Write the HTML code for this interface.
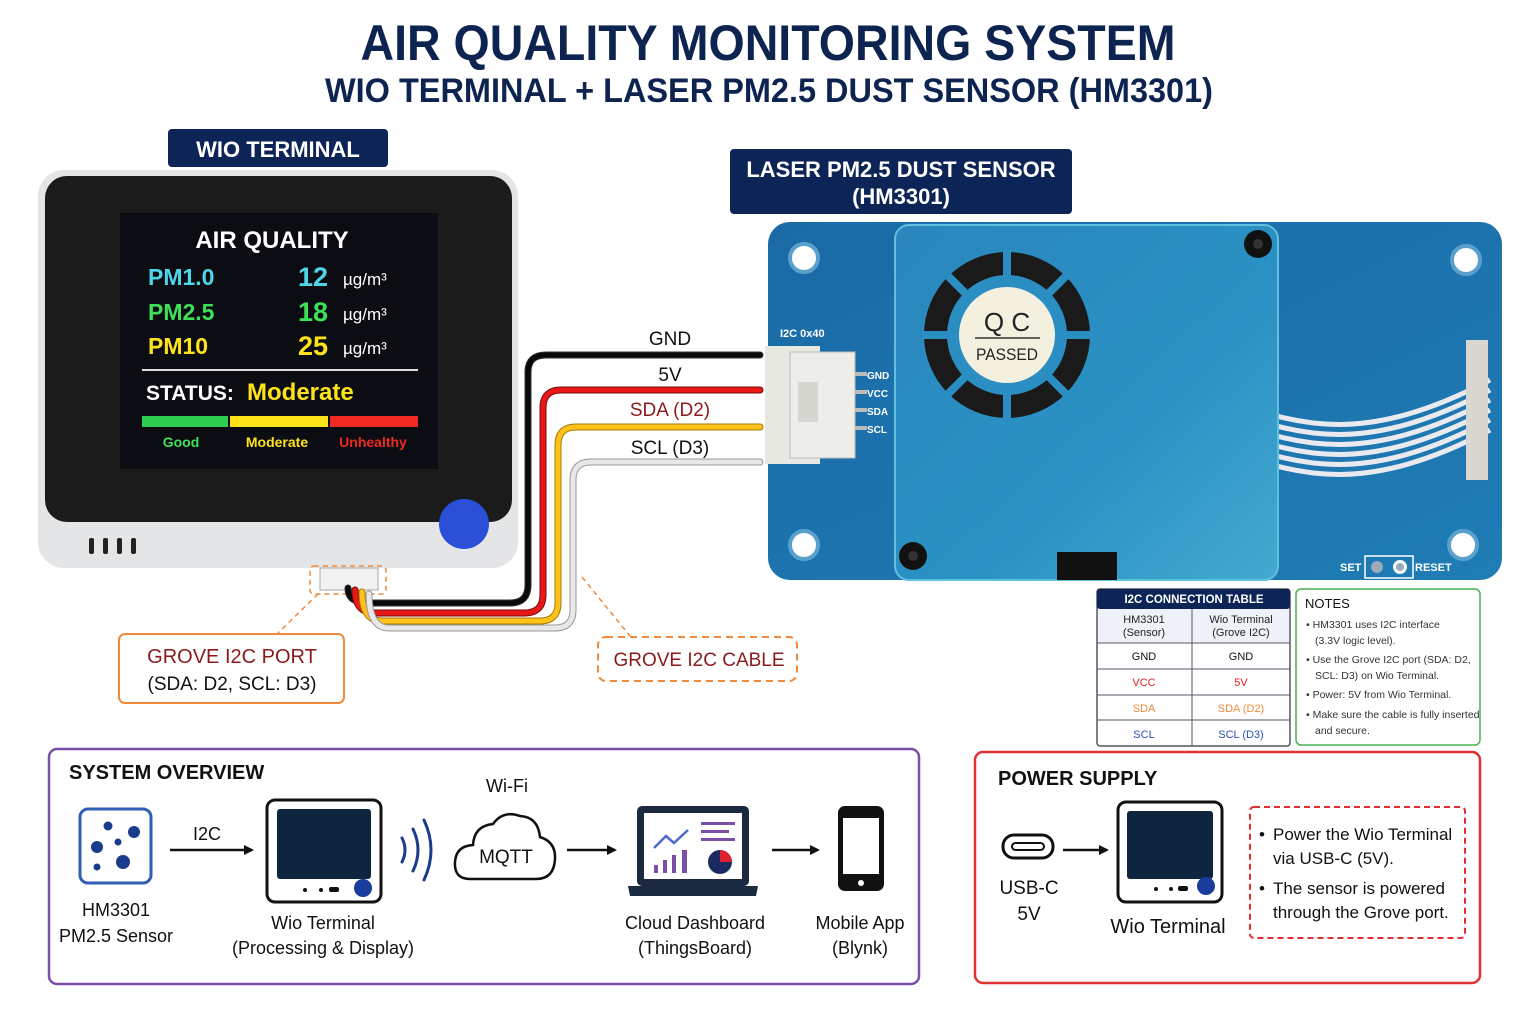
<!DOCTYPE html>
<html><head><meta charset="utf-8"><style>
html,body{margin:0;padding:0;background:#fff}
svg{display:block}
text{font-family:"Liberation Sans",sans-serif}
</style></head><body>
<svg width="1536" height="1024" viewBox="0 0 1536 1024" xmlns="http://www.w3.org/2000/svg">
<defs>
<linearGradient id="pcb" x1="0" y1="0" x2="1" y2="1"><stop offset="0" stop-color="#1a6aa6"/><stop offset="1" stop-color="#1f7cb5"/></linearGradient>
<linearGradient id="can" x1="0" y1="0" x2="1" y2="1"><stop offset="0" stop-color="#2a86bd"/><stop offset="0.6" stop-color="#2a92c4"/><stop offset="1" stop-color="#45aad0"/></linearGradient>
<marker id="ar" markerWidth="10" markerHeight="10" refX="8" refY="5" orient="auto" markerUnits="userSpaceOnUse"><path d="M0,0 L10,5 L0,10 Z" fill="#111"/></marker>
</defs>
<rect width="1536" height="1024" fill="#fff"/>
<!-- Title -->
<text x="768" y="60" text-anchor="middle" font-size="50" font-weight="bold" fill="#0d2350" textLength="815" lengthAdjust="spacingAndGlyphs">AIR QUALITY MONITORING SYSTEM</text>
<text x="769" y="102" text-anchor="middle" font-size="34" font-weight="bold" fill="#0d2350" textLength="888" lengthAdjust="spacingAndGlyphs">WIO TERMINAL + LASER PM2.5 DUST SENSOR (HM3301)</text>

<!-- Wio label -->
<rect x="168" y="129" width="220" height="38" rx="4" fill="#0c2456"/>
<text x="278" y="157" text-anchor="middle" font-size="22" font-weight="bold" fill="#fff">WIO TERMINAL</text>

<!-- Wio body -->
<rect x="38" y="170" width="480" height="398" rx="26" fill="#e4e5e7"/>
<rect x="45" y="176" width="467" height="346" rx="22" fill="#1b1b1b"/>
<rect x="120" y="213" width="318" height="256" fill="#0b0d12"/>
<g fill="#222"><rect x="89" y="538" width="5" height="16" rx="2"/><rect x="103" y="538" width="5" height="16" rx="2"/><rect x="117" y="538" width="5" height="16" rx="2"/><rect x="131" y="538" width="5" height="16" rx="2"/></g>
<circle cx="464" cy="524" r="25" fill="#2c4fd8"/>
<text x="272" y="248" text-anchor="middle" font-size="24" font-weight="bold" fill="#fff">AIR QUALITY</text>
<g font-size="23" font-weight="bold">
<text x="148" y="285" fill="#4fd5ea">PM1.0</text><text x="328" y="286" text-anchor="end" font-size="27" fill="#4fd5ea">12</text>
<text x="148" y="320" fill="#3ee05a">PM2.5</text><text x="328" y="321" text-anchor="end" font-size="27" fill="#3ee05a">18</text>
<text x="148" y="354" fill="#ffe31a">PM10</text><text x="328" y="355" text-anchor="end" font-size="27" fill="#ffe31a">25</text>
</g>
<g font-size="17" fill="#fff"><text x="343" y="285">µg/m³</text><text x="343" y="320">µg/m³</text><text x="343" y="354">µg/m³</text></g>
<line x1="142" y1="370" x2="418" y2="370" stroke="#ddd" stroke-width="2"/>
<text x="146" y="400" font-size="21" font-weight="bold" fill="#fff">STATUS:</text>
<text x="247" y="400" font-size="24" font-weight="bold" fill="#ffe31a">Moderate</text>
<rect x="142" y="416" width="86" height="11" fill="#2ecc50"/><rect x="230" y="416" width="98" height="11" fill="#ffe31a"/><rect x="330" y="416" width="88" height="11" fill="#ee2a22"/>
<g font-size="14" font-weight="bold" text-anchor="middle"><text x="181" y="447" fill="#3ee05a">Good</text><text x="277" y="447" fill="#ffe31a">Moderate</text><text x="373" y="447" fill="#ee2a22">Unhealthy</text></g>

<!-- grove port -->
<rect x="320" y="568" width="58" height="22" fill="#f2f2f2" stroke="#aaa"/>
<rect x="310" y="566" width="76" height="28" rx="4" fill="none" stroke="#f08a3c" stroke-width="1.5" stroke-dasharray="5,4"/>

<!-- wires -->
<g fill="none" stroke-linecap="round">
<path d="M348,588 Q348,603 368,603 L510,603 Q528,603 528,585 L528,372 Q528,355 546,355 L760,355" stroke="#333" stroke-width="7"/>
<path d="M348,588 Q348,603 368,603 L510,603 Q528,603 528,585 L528,372 Q528,355 546,355 L760,355" stroke="#0a0a0a" stroke-width="5"/>
<path d="M355,590 Q355,613 375,613 L524,613 Q543,613 543,595 L543,408 Q543,390 561,390 L760,390" stroke="#7a0a0a" stroke-width="7"/>
<path d="M355,590 Q355,613 375,613 L524,613 Q543,613 543,595 L543,408 Q543,390 561,390 L760,390" stroke="#e81818" stroke-width="5"/>
<path d="M362,592 Q362,621 382,621 L540,621 Q558,621 558,603 L558,445 Q558,427 576,427 L760,427" stroke="#a77a00" stroke-width="7"/>
<path d="M362,592 Q362,621 382,621 L540,621 Q558,621 558,603 L558,445 Q558,427 576,427 L760,427" stroke="#ffc21a" stroke-width="5"/>
<path d="M369,594 Q369,628 389,628 L555,628 Q573,628 573,610 L573,480 Q573,462 591,462 L760,462" stroke="#999" stroke-width="7"/>
<path d="M369,594 Q369,628 389,628 L555,628 Q573,628 573,610 L573,480 Q573,462 591,462 L760,462" stroke="#e8e8e8" stroke-width="5"/>
</g>
<g font-size="19" text-anchor="middle"><text x="670" y="345" fill="#111">GND</text><text x="670" y="381" fill="#111">5V</text><text x="670" y="416" fill="#8b1a1a">SDA (D2)</text><text x="670" y="454" fill="#111">SCL (D3)</text></g>

<!-- callouts -->
<line x1="318" y1="594" x2="278" y2="633" stroke="#f08a3c" stroke-width="1.5" stroke-dasharray="5,4"/>
<rect x="119" y="634" width="225" height="69" rx="6" fill="#fff" stroke="#f08a3c" stroke-width="2"/>
<text x="232" y="663" text-anchor="middle" font-size="20" fill="#8b1a1a">GROVE I2C PORT</text>
<text x="232" y="690" text-anchor="middle" font-size="19" fill="#111">(SDA: D2, SCL: D3)</text>
<line x1="582" y1="577" x2="630" y2="636" stroke="#f08a3c" stroke-width="1.5" stroke-dasharray="5,4"/>
<rect x="598" y="637" width="199" height="44" rx="8" fill="#fff" stroke="#f08a3c" stroke-width="2" stroke-dasharray="7,5"/>
<text x="699" y="666" text-anchor="middle" font-size="19" fill="#8b1a1a">GROVE I2C CABLE</text>

<!-- sensor label -->
<rect x="730" y="149" width="342" height="65" rx="4" fill="#0c2456"/>
<text x="901" y="177" text-anchor="middle" font-size="22" font-weight="bold" fill="#fff">LASER PM2.5 DUST SENSOR</text>
<text x="901" y="204" text-anchor="middle" font-size="22" font-weight="bold" fill="#fff">(HM3301)</text>

<!-- PCB -->
<rect x="768" y="222" width="734" height="358" rx="22" fill="url(#pcb)"/>
<g fill="#fff" stroke="#5aa0cc" stroke-width="4"><circle cx="804" cy="258" r="14"/><circle cx="1466" cy="260" r="14"/><circle cx="804" cy="545" r="14"/><circle cx="1463" cy="545" r="14"/></g>
<text x="780" y="337" font-size="11" font-weight="bold" font-family="Liberation Mono" fill="#fff">I2C 0x40</text>
<rect x="765" y="346" width="55" height="118" fill="#e8e8e2"/>
<rect x="790" y="352" width="65" height="106" fill="#ededea" stroke="#bbb"/>
<rect x="798" y="382" width="20" height="40" fill="#d6d6d0"/>
<g fill="#bbb"><rect x="855" y="372" width="12" height="4"/><rect x="855" y="390" width="12" height="4"/><rect x="855" y="408" width="12" height="4"/><rect x="855" y="426" width="12" height="4"/></g>
<g font-size="10" font-weight="bold" fill="#fff"><text x="867" y="379">GND</text><text x="867" y="397">VCC</text><text x="867" y="415">SDA</text><text x="867" y="433">SCL</text></g>
<!-- right side components -->
<g fill="#1b2a38"><rect x="1125" y="335" width="12" height="18"/><rect x="1148" y="335" width="12" height="18"/><rect x="1170" y="338" width="12" height="14"/><rect x="1185" y="336" width="22" height="18"/><rect x="1215" y="338" width="10" height="14"/><rect x="1230" y="338" width="10" height="14"/><rect x="1164" y="360" width="12" height="20"/><rect x="1180" y="360" width="12" height="20"/><rect x="1200" y="370" width="18" height="18"/><rect x="1150" y="395" width="12" height="16"/><rect x="1172" y="400" width="20" height="16"/><rect x="1200" y="400" width="20" height="16"/><rect x="1228" y="385" width="12" height="20"/><rect x="1135" y="420" width="12" height="16"/></g>
<rect x="1125" y="333" width="12" height="40" fill="#ccd" opacity=".7"/>
<g fill="none" stroke="#e9e9f0" stroke-width="5">
<path d="M1120,380 C1250,380 1300,480 1490,380"/><path d="M1120,390 C1250,390 1300,490 1490,390"/><path d="M1120,400 C1250,400 1300,500 1490,400"/><path d="M1120,410 C1250,410 1300,510 1490,410"/><path d="M1120,420 C1250,420 1300,520 1490,420"/><path d="M1120,430 C1250,430 1300,530 1490,430"/>
</g>
<rect x="1466" y="340" width="22" height="140" fill="#d8d8d0"/>
<g font-size="11" font-weight="bold" fill="#fff"><text x="1340" y="571">SET</text><text x="1415" y="571">RESET</text></g>
<rect x="1365" y="556" width="48" height="22" fill="none" stroke="#fff" stroke-width="1.5"/>
<circle cx="1377" cy="567" r="6" fill="#9ab"/><circle cx="1400" cy="567" r="7" fill="#fff"/><circle cx="1400" cy="567" r="4" fill="#9ab"/>
<!-- metal can -->
<rect x="895" y="225" width="383" height="355" rx="14" fill="url(#can)" stroke="#5fc0e0" stroke-width="2"/>
<circle cx="1258" cy="244" r="14" fill="#111"/><circle cx="913" cy="556" r="14" fill="#111"/><circle cx="1258" cy="244" r="5" fill="#333"/><circle cx="913" cy="556" r="5" fill="#333"/>
<rect x="1057" y="552" width="60" height="28" fill="#111"/>
<circle cx="1007" cy="335" r="83" fill="#1a1a1a"/>
<circle cx="1007" cy="335" r="60" fill="#2a8ec2"/>
<g stroke="#2a8ec2" stroke-width="8"><line x1="1007" y1="250" x2="1007" y2="280"/><line x1="1007" y1="390" x2="1007" y2="420"/><line x1="922" y1="335" x2="952" y2="335"/><line x1="1062" y1="335" x2="1092" y2="335"/><line x1="947" y1="275" x2="968" y2="296"/><line x1="1067" y1="275" x2="1046" y2="296"/><line x1="947" y1="395" x2="968" y2="374"/><line x1="1067" y1="395" x2="1046" y2="374"/></g>
<circle cx="1007" cy="335" r="48" fill="#f4f0e0"/>
<text x="1007" y="331" text-anchor="middle" font-size="26" fill="#222">Q C</text>
<line x1="975" y1="338" x2="1040" y2="338" stroke="#333" stroke-width="1.5"/>
<text x="1007" y="360" text-anchor="middle" font-size="17" fill="#222" textLength="62" lengthAdjust="spacingAndGlyphs">PASSED</text>

<!-- I2C table -->
<rect x="1097" y="589" width="193" height="157" rx="3" fill="#fff" stroke="#556" stroke-width="1.5"/>
<rect x="1097" y="589" width="193" height="20" rx="3" fill="#0c2456"/>
<text x="1194" y="603" text-anchor="middle" font-size="11.5" font-weight="bold" fill="#fff">I2C CONNECTION TABLE</text>
<rect x="1098" y="609" width="191" height="34" fill="#eef2f8"/>
<g stroke="#556" stroke-width="1"><line x1="1192" y1="609" x2="1192" y2="746"/><line x1="1097" y1="643" x2="1290" y2="643"/><line x1="1097" y1="669" x2="1290" y2="669"/><line x1="1097" y1="695" x2="1290" y2="695"/><line x1="1097" y1="720" x2="1290" y2="720"/></g>
<g font-size="11" text-anchor="middle">
<text x="1144" y="623" fill="#222">HM3301</text><text x="1144" y="636" fill="#222">(Sensor)</text>
<text x="1241" y="623" fill="#222">Wio Terminal</text><text x="1241" y="636" fill="#222">(Grove I2C)</text>
<text x="1144" y="660" fill="#111">GND</text><text x="1241" y="660" fill="#111">GND</text>
<text x="1144" y="686" fill="#e02020">VCC</text><text x="1241" y="686" fill="#e02020">5V</text>
<text x="1144" y="712" fill="#f08a3c">SDA</text><text x="1241" y="712" fill="#f08a3c">SDA (D2)</text>
<text x="1144" y="738" fill="#2a50b0">SCL</text><text x="1241" y="738" fill="#2a50b0">SCL (D3)</text>
</g>
<rect x="1296" y="589" width="184" height="156" rx="5" fill="#fff" stroke="#4caf50" stroke-width="1.5"/>
<text x="1305" y="608" font-size="13" fill="#111">NOTES</text>
<g font-size="10.5" fill="#333">
<text x="1306" y="628">• HM3301 uses I2C interface</text><text x="1315" y="644">(3.3V logic level).</text>
<text x="1306" y="663">• Use the Grove I2C port (SDA: D2,</text><text x="1315" y="679">SCL: D3) on Wio Terminal.</text>
<text x="1306" y="698">• Power: 5V from Wio Terminal.</text>
<text x="1306" y="718">• Make sure the cable is fully inserted</text><text x="1315" y="734">and secure.</text>
</g>

<!-- System overview -->
<rect x="49" y="749" width="870" height="235" rx="8" fill="#fff" stroke="#7b4fa8" stroke-width="2.5"/>
<text x="69" y="779" font-size="20" font-weight="bold" fill="#111">SYSTEM OVERVIEW</text>
<rect x="80" y="809" width="71" height="74" rx="8" fill="#fff" stroke="#2f5fb0" stroke-width="3"/>
<g fill="#1a3c8c"><circle cx="108" cy="826" r="4.5"/><circle cx="134" cy="832" r="6"/><circle cx="97" cy="847" r="6"/><circle cx="118" cy="842" r="3.5"/><circle cx="123" cy="862" r="7"/><circle cx="97" cy="867" r="3.5"/></g>
<text x="116" y="916" text-anchor="middle" font-size="18" fill="#111">HM3301</text>
<text x="116" y="942" text-anchor="middle" font-size="18" fill="#111">PM2.5 Sensor</text>
<line x1="170" y1="850" x2="252" y2="850" stroke="#111" stroke-width="2.5" marker-end="url(#ar)"/>
<text x="207" y="840" text-anchor="middle" font-size="18" fill="#111">I2C</text>
<rect x="267" y="800" width="114" height="102" rx="8" fill="#fff" stroke="#111" stroke-width="3"/>
<rect x="277" y="809" width="94" height="70" rx="3" fill="#0e2540"/>
<circle cx="363" cy="888" r="9" fill="#1a3c9c"/><circle cx="305" cy="890" r="2" fill="#111"/><circle cx="321" cy="890" r="2" fill="#111"/><rect x="329" y="887" width="10" height="5" rx="2" fill="#111"/>
<text x="323" y="929" text-anchor="middle" font-size="18" fill="#111">Wio Terminal</text>
<text x="323" y="954" text-anchor="middle" font-size="18" fill="#111">(Processing &amp; Display)</text>
<g fill="none" stroke="#1a3c8c" stroke-width="3" stroke-linecap="round"><path d="M402,838 Q408,850 402,862"/><path d="M413,829 Q423,850 413,871"/><path d="M424,820 Q438,850 424,880"/></g>
<text x="507" y="792" text-anchor="middle" font-size="18" fill="#111">Wi-Fi</text>
<path d="M470,879 Q454,879 455,862 Q456,846 473,845 Q474,826 493,824 Q503,810 520,816 Q538,817 540,837 Q556,842 555,859 Q554,879 536,879 Z" fill="#fff" stroke="#111" stroke-width="2.5"/>
<text x="506" y="863" text-anchor="middle" font-size="19" fill="#111">MQTT</text>
<line x1="567" y1="850" x2="615" y2="850" stroke="#111" stroke-width="2.5" marker-end="url(#ar)"/>
<rect x="637" y="806" width="112" height="80" rx="5" fill="#1b2a40"/>
<rect x="644" y="813" width="98" height="66" fill="#fff"/>
<path d="M628,886 L758,886 L756,896 L630,896 Z" fill="#1b2a40"/>
<polyline points="654,848 666,836 674,843 688,830" fill="none" stroke="#4a6ad0" stroke-width="2.5"/>
<g fill="#7b4fa8"><rect x="654" y="865" width="4" height="8"/><rect x="663" y="860" width="4" height="13"/><rect x="672" y="855" width="4" height="18"/><rect x="682" y="850" width="5" height="23"/><rect x="701" y="822" width="34" height="3"/><rect x="701" y="830" width="28" height="3"/><rect x="701" y="838" width="34" height="3"/></g>
<circle cx="720" cy="862" r="12" fill="#1b2a60"/><path d="M720,862 L720,850 A12,12 0 0 1 732,862 Z" fill="#e02030"/>
<line x1="772" y1="850" x2="818" y2="850" stroke="#111" stroke-width="2.5" marker-end="url(#ar)"/>
<text x="695" y="929" text-anchor="middle" font-size="18" fill="#111">Cloud Dashboard</text>
<text x="695" y="954" text-anchor="middle" font-size="18" fill="#111">(ThingsBoard)</text>
<rect x="838" y="806" width="46" height="85" rx="7" fill="#111"/>
<rect x="843" y="818" width="36" height="56" fill="#fff"/>
<circle cx="861" cy="883" r="3" fill="#fff"/>
<text x="860" y="929" text-anchor="middle" font-size="18" fill="#111">Mobile App</text>
<text x="860" y="954" text-anchor="middle" font-size="18" fill="#111">(Blynk)</text>

<!-- Power supply -->
<rect x="975" y="752" width="505" height="231" rx="8" fill="#fff" stroke="#e03030" stroke-width="2.5"/>
<text x="998" y="785" font-size="20" font-weight="bold" fill="#111">POWER SUPPLY</text>
<rect x="1003" y="835" width="50" height="23" rx="11" fill="#fff" stroke="#111" stroke-width="3"/>
<rect x="1012" y="843" width="32" height="7" rx="3.5" fill="none" stroke="#111" stroke-width="2"/>
<text x="1029" y="894" text-anchor="middle" font-size="19" fill="#111">USB-C</text>
<text x="1029" y="920" text-anchor="middle" font-size="19" fill="#111">5V</text>
<line x1="1063" y1="850" x2="1107" y2="850" stroke="#111" stroke-width="2.5" marker-end="url(#ar)"/>
<rect x="1118" y="802" width="104" height="100" rx="8" fill="#fff" stroke="#111" stroke-width="3"/>
<rect x="1127" y="811" width="86" height="68" rx="3" fill="#0e2540"/>
<circle cx="1206" cy="886" r="9" fill="#1a3c9c"/><circle cx="1156" cy="889" r="2" fill="#111"/><circle cx="1171" cy="889" r="2" fill="#111"/><rect x="1178" y="886" width="10" height="5" rx="2" fill="#111"/>
<text x="1168" y="933" text-anchor="middle" font-size="20" fill="#111">Wio Terminal</text>
<rect x="1250" y="807" width="215" height="131" rx="4" fill="#fff" stroke="#e03030" stroke-width="2" stroke-dasharray="6,4"/>
<g font-size="17" fill="#111">
<text x="1259" y="840">•</text><text x="1273" y="840">Power the Wio Terminal</text><text x="1273" y="864">via USB-C (5V).</text>
<text x="1259" y="894">•</text><text x="1273" y="894">The sensor is powered</text><text x="1273" y="918">through the Grove port.</text>
</g>
</svg>
</body></html>
